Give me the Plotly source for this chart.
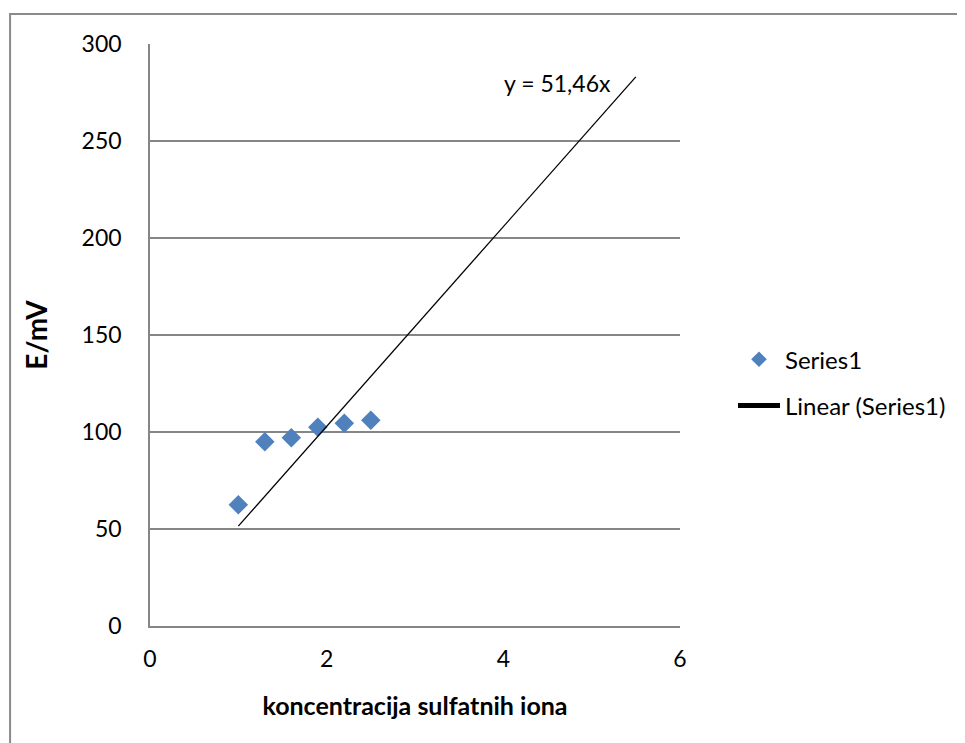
import plotly.graph_objects as go
import numpy as np

# data
conc = [1.0, 1.3, 1.6, 1.9, 2.2, 2.5]
e_mv = [62.5, 95.0, 97.0, 102.5, 104.5, 106.0]
slope = 51.46
trend_x = [1.0, 5.5]
trend_y = [slope * v for v in trend_x]
x_ticks = [0, 2, 4, 6]
y_ticks = [0, 50, 100, 150, 200, 250, 300]

FONT = "Lato"
GRID = "#868686"

fig = go.Figure()
fig.add_trace(go.Scatter(
    x=conc, y=e_mv, mode="markers", name="Series1", legendgroup="a",
    marker=dict(symbol="diamond", size=15, color="#4F81BD"),
))
fig.add_trace(go.Scatter(
    x=trend_x, y=trend_y, mode="lines", name="Linear (Series1)", legendgroup="b",
    line=dict(color="black", width=1.3),
))

fig.update_layout(
    width=957, height=735,
    margin=dict(l=142, r=285, t=36, b=117),
    paper_bgcolor="white", plot_bgcolor="white",
    font=dict(family=FONT, size=23, color="black"),
    showlegend=True,
    legend=dict(x=1.1, y=0.418, xanchor="left", yanchor="middle",
                font=dict(family=FONT, size=24), tracegroupgap=12,
                traceorder="grouped", itemwidth=42,
                itemsizing="constant"),
    xaxis=dict(range=[0, 6], tickvals=x_ticks, showgrid=False,
               showline=True, linecolor=GRID, linewidth=1.5, zeroline=False,
               ticks="", tickfont=dict(size=23), ticklabelstandoff=12,
               title=dict(text="<b>koncentracija sulfatnih iona</b>",
                          font=dict(size=25), standoff=26)),
    yaxis=dict(range=[0, 300], tickvals=y_ticks, showgrid=True,
               gridcolor=GRID, gridwidth=1.5,
               showline=True, linecolor=GRID, linewidth=1.5, zeroline=False,
               ticks="", tickfont=dict(size=23), ticklabelstandoff=22,
               title=dict(text="<b>E/mV</b>", font=dict(size=28), standoff=26)),
    annotations=[dict(text="y = 51,46x", xref="paper", yref="paper",
                      x=0.768, y=0.933, xanchor="center", yanchor="middle",
                      showarrow=False, font=dict(family=FONT, size=23))],
    shapes=[dict(type="rect", xref="paper", yref="paper",
                 x0=-0.264, x1=1.7, y0=-0.4, y1=1.0515,
                 line=dict(color="#8a8a8a", width=2), layer="below")],
)

fig.write_html("out.html")
